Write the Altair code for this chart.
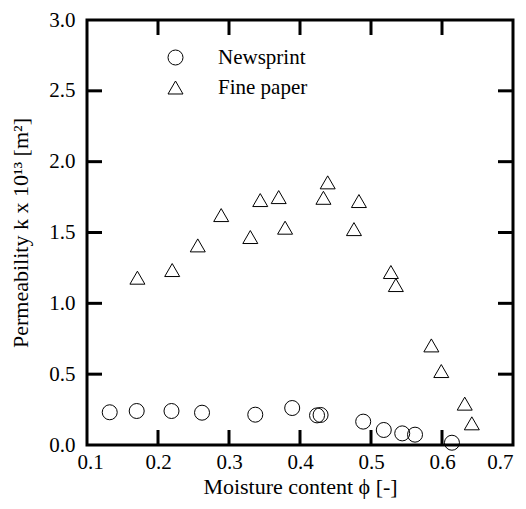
import altair as alt
import pandas as pd

news_x = [0.132, 0.170, 0.219, 0.262, 0.337, 0.389, 0.424, 0.429, 0.489, 0.518, 0.544, 0.562, 0.614]
news_y = [0.231, 0.240, 0.240, 0.228, 0.214, 0.261, 0.209, 0.212, 0.165, 0.106, 0.082, 0.073, 0.016]
fine_x = [0.171, 0.220, 0.256, 0.289, 0.330, 0.344, 0.370, 0.379, 0.433, 0.439, 0.476, 0.483,
          0.528, 0.535, 0.585, 0.599, 0.632, 0.642]
fine_y = [1.181, 1.235, 1.409, 1.623, 1.468, 1.729, 1.750, 1.534, 1.745, 1.854, 1.524, 1.722,
          1.221, 1.129, 0.703, 0.522, 0.292, 0.153]
series = ["Newsprint", "Fine paper"]
x_ticks = [0.1, 0.2, 0.3, 0.4, 0.5, 0.6, 0.7]
y_ticks = [0.0, 0.5, 1.0, 1.5, 2.0, 2.5, 3.0]
x_inner = [0.2, 0.3, 0.4, 0.5, 0.6]
y_inner = [0.5, 1.0, 1.5, 2.0, 2.5]

W, H = 426, 425
FONT = "Liberation Serif"
TL = 15

df = pd.DataFrame({
    "x": news_x + fine_x,
    "y": news_y + fine_y,
    "s": [series[0]] * len(news_x) + [series[1]] * len(fine_x),
})

xs = alt.Scale(domain=[0.1, 0.7], nice=False, zero=False)
ys = alt.Scale(domain=[0.0, 3.0], nice=False, zero=False)

common = dict(format=".1f", ticks=False, domain=False, grid=False,
              labelFont=FONT, labelFontSize=21, labelColor="black",
              titleFont=FONT, titleFontSize=22, titleFontWeight="normal", titleColor="black")
x_axis = alt.Axis(
    title="Moisture content ϕ [-]", values=x_ticks, labelPadding=6, titlePadding=4,
    labelOffset={"condition": {"test": "datum.value < 0.15", "value": -10}, "value": 0}, **common)
y_axis = alt.Axis(
    title="Permeability k x 10¹³ [m²]", values=y_ticks, labelPadding=12,
    titleX=-55, titleY=H / 2, titleBaseline="bottom", titleAngle=270, titleAlign="center", **common)

points = alt.Chart(df).mark_point(filled=False, stroke="black", strokeWidth=1, size=225, opacity=1).encode(
    x=alt.X("x:Q", scale=xs, axis=x_axis),
    y=alt.Y("y:Q", scale=ys, axis=y_axis),
    shape=alt.Shape("s:N", scale=alt.Scale(domain=series, range=["circle", "triangle-up"]),
                    legend=alt.Legend(title=None, orient="none", legendX=78, legendY=27,
                                      padding=0, symbolSize=225, symbolStrokeWidth=1,
                                      symbolStrokeColor="black", symbolFillColor="transparent",
                                      labelFont=FONT, labelFontSize=21, labelColor="black",
                                      labelOffset=32, rowPadding=8, symbolType="circle")),
)

xdf = pd.DataFrame({"x": x_inner})
ydf = pd.DataFrame({"y": y_inner})
xb = alt.Chart(xdf).mark_rule(color="black", strokeWidth=3).encode(
    x=alt.X("x:Q", scale=xs, axis=x_axis), y=alt.value(H), y2=alt.value(H - TL))
xt = alt.Chart(xdf).mark_rule(color="black", strokeWidth=3).encode(
    x=alt.X("x:Q", scale=xs, axis=x_axis), y=alt.value(0), y2=alt.value(TL))
yl = alt.Chart(ydf).mark_rule(color="black", strokeWidth=3).encode(
    y=alt.Y("y:Q", scale=ys, axis=y_axis), x=alt.value(0), x2=alt.value(TL))
yr = alt.Chart(ydf).mark_rule(color="black", strokeWidth=3).encode(
    y=alt.Y("y:Q", scale=ys, axis=y_axis), x=alt.value(W), x2=alt.value(W - TL))

chart = alt.layer(points, xb, xt, yl, yr).properties(
    width=W, height=H,
    background="white",
    autosize=alt.AutoSizeParams(type="none"),
    padding={"left": 87, "top": 20, "right": 13, "bottom": 64},
).configure_view(stroke="black", strokeWidth=3)

chart.save("out.html", embed_options={"renderer": "svg", "actions": False})
